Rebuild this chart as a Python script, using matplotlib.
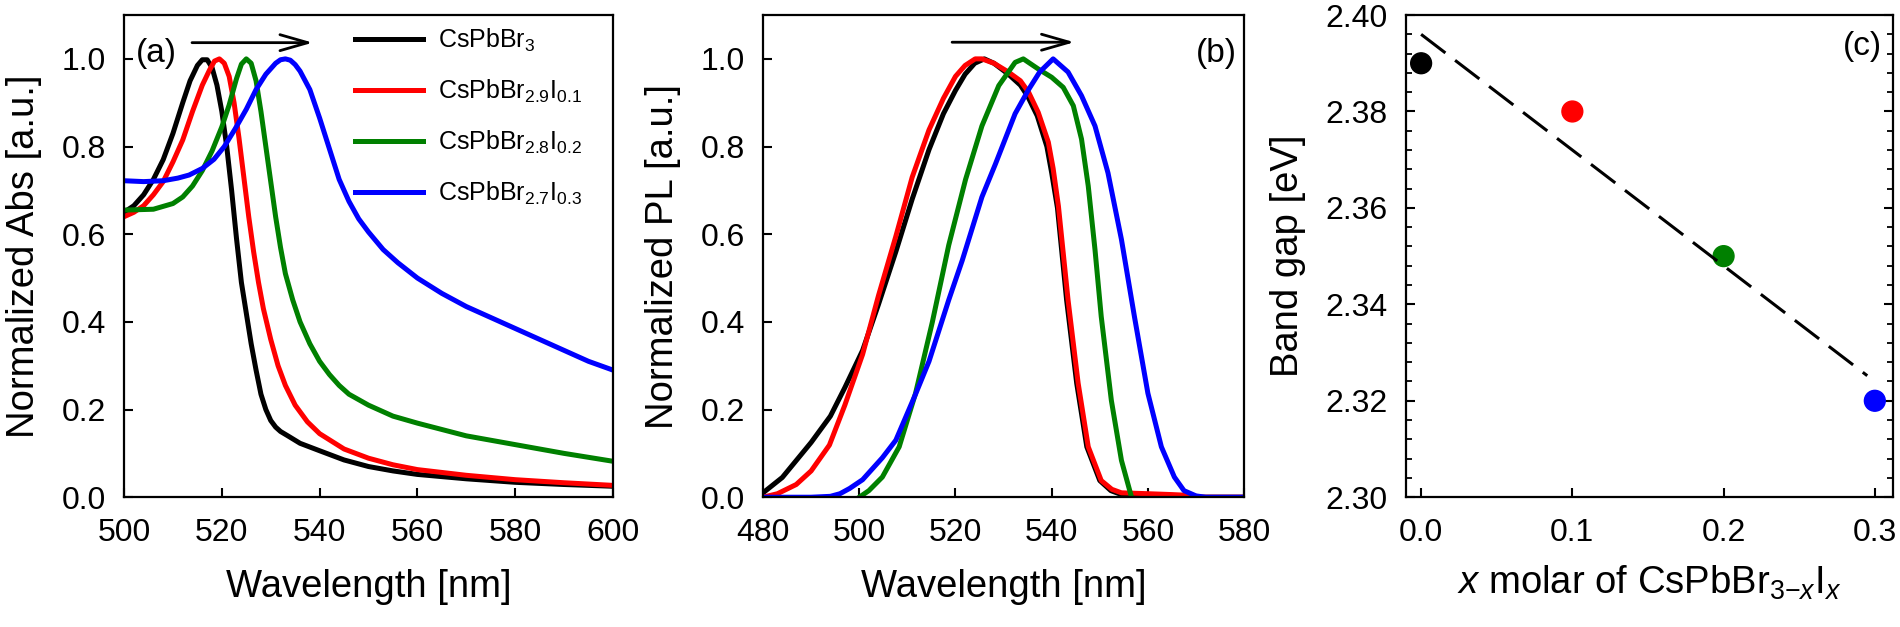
import numpy as np
import matplotlib.pyplot as plt
from matplotlib.ticker import MultipleLocator, FormatStrFormatter

plt.rcParams['font.family'] = ['Liberation Sans', 'DejaVu Sans']
plt.rcParams['mathtext.fontset'] = 'custom'
plt.rcParams['mathtext.rm'] = 'Liberation Sans'
plt.rcParams['mathtext.it'] = 'Liberation Sans:italic'
plt.rcParams['mathtext.bf'] = 'Liberation Sans:bold'

# Sample names and colours.
names = [r'CsPbBr$_3$', r'CsPbBr$_{2.9}$I$_{0.1}$', r'CsPbBr$_{2.8}$I$_{0.2}$', r'CsPbBr$_{2.7}$I$_{0.3}$']
colors = ['black', 'red', 'green', 'blue']

# (a) Normalized absorption.
absWl0 = [500, 502, 504, 506, 508, 510, 512, 513.5, 515, 516, 517, 518, 519, 520, 521, 522, 523, 524, 525, 526,
          527, 528, 529, 530, 531, 532, 533.5, 536, 540, 545, 550, 555, 560, 570, 580, 590, 600]
abs0 = [0.65, 0.665, 0.69, 0.725, 0.77, 0.83, 0.90, 0.95, 0.985, 0.998, 0.998, 0.98, 0.94, 0.88, 0.80, 0.70, 0.59,
        0.49, 0.42, 0.35, 0.29, 0.235, 0.20, 0.175, 0.16, 0.15, 0.14, 0.123, 0.106, 0.085, 0.07, 0.06, 0.052,
        0.042, 0.034, 0.029, 0.025]
absWl1 = [500, 502, 504, 506, 508, 510, 512, 514, 516, 517.5, 518.5, 519.5, 520.5, 521.5, 522.5, 523.5, 524.5,
          525.5, 526.5, 527.5, 528.5, 530, 531.5, 533, 535, 537.5, 540, 545, 550, 555, 560, 570, 580, 590, 600]
abs1 = [0.64, 0.65, 0.665, 0.69, 0.72, 0.765, 0.815, 0.88, 0.94, 0.975, 0.995, 1.0, 0.99, 0.96, 0.90, 0.82, 0.73,
        0.64, 0.56, 0.49, 0.43, 0.36, 0.30, 0.255, 0.21, 0.172, 0.145, 0.11, 0.089, 0.074, 0.063, 0.05, 0.04,
        0.033, 0.027]
absWl2 = [500, 506, 510, 512, 514, 516, 518, 520, 521.5, 523, 524, 525, 526, 527, 528, 529, 530, 531, 532, 533,
          534.5, 536, 538, 540, 542, 544, 546, 550, 555, 560, 570, 580, 590, 600]
abs2 = [0.655, 0.657, 0.67, 0.685, 0.71, 0.745, 0.79, 0.845, 0.895, 0.955, 0.988, 1.0, 0.99, 0.95, 0.88, 0.80,
        0.72, 0.64, 0.57, 0.51, 0.45, 0.40, 0.35, 0.31, 0.28, 0.255, 0.235, 0.21, 0.185, 0.169, 0.14, 0.12, 0.10,
        0.082]
absWl3 = [500, 504, 508, 511, 513.3, 516, 518.4, 520.5, 522.7, 525, 527, 529, 531, 532, 533, 534, 535, 536, 538,
          540, 542, 544, 546, 548, 550, 553, 556, 560, 565, 570, 575, 580, 585, 590, 595, 600]
abs3 = [0.722, 0.72, 0.722, 0.728, 0.735, 0.75, 0.771, 0.80, 0.84, 0.885, 0.93, 0.965, 0.99, 0.998, 1.0, 0.997,
        0.987, 0.972, 0.93, 0.865, 0.795, 0.725, 0.675, 0.635, 0.605, 0.565, 0.535, 0.50, 0.465, 0.435, 0.41,
        0.385, 0.36, 0.335, 0.31, 0.29]

# (b) Normalized PL.
plWl0 = [480, 484, 487, 490, 494, 497, 500.7, 504, 507.6, 511, 514.5, 517.5, 520, 522, 524, 526, 528, 531, 533.5,
         535, 537, 539, 540, 541.2, 543.1, 545.2, 547.3, 550, 552.3, 554.5, 560, 570, 580]
pl0 = [0.01, 0.045, 0.085, 0.125, 0.185, 0.25, 0.335, 0.44, 0.56, 0.68, 0.793, 0.875, 0.928, 0.965, 0.99, 1.0,
       0.99, 0.965, 0.94, 0.915, 0.87, 0.80, 0.74, 0.66, 0.45, 0.26, 0.115, 0.038, 0.015, 0.006, 0.003, 0.0, 0.0]
plWl1 = [480, 483, 486.9, 490, 493.8, 497, 500.7, 504, 507.6, 511, 514.5, 517.5, 520, 522, 524.1, 525.5, 528, 531,
         533.5, 535.2, 537.2, 539.3, 540.3, 541.4, 543.4, 545.5, 547.6, 550.3, 552.5, 554.5, 560, 565, 569, 571, 580]
pl1 = [0.0, 0.008, 0.029, 0.06, 0.119, 0.21, 0.326, 0.46, 0.595, 0.73, 0.838, 0.91, 0.96, 0.985, 1.0, 1.0, 0.99,
       0.97, 0.95, 0.924, 0.878, 0.81, 0.75, 0.664, 0.45, 0.26, 0.115, 0.038, 0.018, 0.01, 0.008, 0.006, 0.004,
       0.0, 0.0]
plWl2 = [500, 502, 504.8, 508.3, 511.7, 515.2, 518.6, 522.1, 525.5, 529, 532.4, 534.1, 537.2, 540, 542.4, 544.5,
         546.2, 547.6, 549, 550.3, 552.4, 554.5, 556.6]
pl2 = [0.0, 0.015, 0.046, 0.115, 0.237, 0.40, 0.575, 0.725, 0.847, 0.939, 0.992, 1.0, 0.977, 0.958, 0.935, 0.893,
       0.817, 0.71, 0.565, 0.412, 0.221, 0.084, 0.0]
plWl3 = [480, 490, 494, 496, 498, 500.7, 504.8, 507.6, 511.7, 514.5, 518.6, 521.4, 525.5, 528.3, 532.4, 535.2,
         537.5, 540.3, 543.4, 546.2, 549, 551.7, 554.5, 557.2, 560, 562.8, 565.5, 567.5, 570, 572, 580]
pl3 = [0.0, 0.0, 0.002, 0.008, 0.02, 0.04, 0.09, 0.13, 0.235, 0.31, 0.45, 0.54, 0.685, 0.76, 0.875, 0.93, 0.97,
       1.0, 0.97, 0.916, 0.847, 0.74, 0.588, 0.412, 0.237, 0.115, 0.046, 0.015, 0.003, 0.0, 0.0]

# (c) Band gap against iodine content.
bgX = [0.0, 0.1, 0.2, 0.3]
bgY = [2.39, 2.38, 2.35, 2.32]
fitEnd = 0.295 # Where the dashed fit line stops.

# Red-shift arrows (start and end wavelength, height).
arrowA = (513.9, 538.6, 1.037)
arrowB = (519.3, 544.7, 1.038)

absData = [(absWl0, abs0), (absWl1, abs1), (absWl2, abs2), (absWl3, abs3)]
plData = [(plWl0, pl0), (plWl1, pl1), (plWl2, pl2), (plWl3, pl3)]

tickSize = 23
labelSize = 27.5
panelSize = 24
lw = 3.6
arrowStyle = '->,head_length=0.8,head_width=0.23'

fig = plt.figure(figsize=(19, 6.27), dpi=100)
axA = fig.add_axes([0.0653, 0.207, 0.2573, 0.769])
axB = fig.add_axes([0.4016, 0.207, 0.2532, 0.769])
axC = fig.add_axes([0.740, 0.207, 0.2563, 0.769])

for ax in (axA, axB, axC):
    for s in ax.spines.values():
        s.set_linewidth(1.6)
    ax.tick_params(which='major', direction='in', length=6.5, width=1.5, labelsize=tickSize)
    ax.tick_params(axis='x', pad=15)
    ax.tick_params(axis='y', pad=13)

# Panel (a).
for (wl, val), c, n in zip(absData, colors, names):
    axA.plot(wl, val, color=c, lw=lw, label=n)
axA.set_xlim(500, 600)
axA.set_ylim(0, 1.1)
axA.xaxis.set_major_locator(MultipleLocator(20))
axA.yaxis.set_major_locator(MultipleLocator(0.2))
axA.yaxis.set_major_formatter(FormatStrFormatter('%.1f'))
axA.set_xlabel('Wavelength [nm]', fontsize=labelSize, labelpad=15)
axA.set_ylabel('Normalized Abs [a.u.]', fontsize=labelSize, labelpad=14)
axA.text(0.024, 0.92, '(a)', transform=axA.transAxes, fontsize=panelSize, va='center', ha='left')
axA.annotate('', xy=(arrowA[1], arrowA[2]), xytext=(arrowA[0], arrowA[2]),
             arrowprops=dict(arrowstyle=arrowStyle, lw=2, color='black',
                             mutation_scale=25, shrinkA=0, shrinkB=0))
axA.legend(loc='upper left', bbox_to_anchor=(0.437, 1.012), frameon=False, fontsize=18,
           handlelength=2.7, handletextpad=0.6, labelspacing=0.95, borderaxespad=0.3)

# Panel (b).
for (wl, val), c in zip(plData, colors):
    axB.plot(wl, val, color=c, lw=lw)
axB.set_xlim(480, 580)
axB.set_ylim(0, 1.1)
axB.xaxis.set_major_locator(MultipleLocator(20))
axB.yaxis.set_major_locator(MultipleLocator(0.2))
axB.yaxis.set_major_formatter(FormatStrFormatter('%.1f'))
axB.set_xlabel('Wavelength [nm]', fontsize=labelSize, labelpad=15)
axB.set_ylabel('Normalized PL [a.u.]', fontsize=labelSize, labelpad=14)
axB.text(0.985, 0.92, '(b)', transform=axB.transAxes, fontsize=panelSize, va='center', ha='right')
axB.annotate('', xy=(arrowB[1], arrowB[2]), xytext=(arrowB[0], arrowB[2]),
             arrowprops=dict(arrowstyle=arrowStyle, lw=2, color='black',
                             mutation_scale=25, shrinkA=0, shrinkB=0))

# Panel (c).
fit = np.polyfit(bgX, bgY, 1)
fitX = np.array([bgX[0], fitEnd])
axC.scatter(bgX, bgY, s=15**2, c=colors, zorder=3, clip_on=False)
axC.plot(fitX, np.polyval(fit, fitX), color='black', lw=2.2, dashes=(10, 4), zorder=4)
axC.set_xlim(-0.01, 0.312)
axC.set_ylim(2.30, 2.40)
axC.xaxis.set_major_locator(MultipleLocator(0.1))
axC.xaxis.set_major_formatter(FormatStrFormatter('%.1f'))
axC.yaxis.set_major_locator(MultipleLocator(0.02))
axC.yaxis.set_minor_locator(MultipleLocator(0.004))
axC.yaxis.set_major_formatter(FormatStrFormatter('%.2f'))
axC.tick_params(axis='y', which='both', direction='in', left=True, right=True)
axC.tick_params(axis='y', which='minor', length=4, width=1.3)
axC.set_xlabel(r'$x$ molar of CsPbBr$_{3{-}x}$I$_x$', fontsize=labelSize, labelpad=11)
axC.set_ylabel('Band gap [eV]', fontsize=labelSize, labelpad=14)
axC.text(0.977, 0.934, '(c)', transform=axC.transAxes, fontsize=panelSize, va='center', ha='right')

fig.savefig('out.png', dpi=100)
